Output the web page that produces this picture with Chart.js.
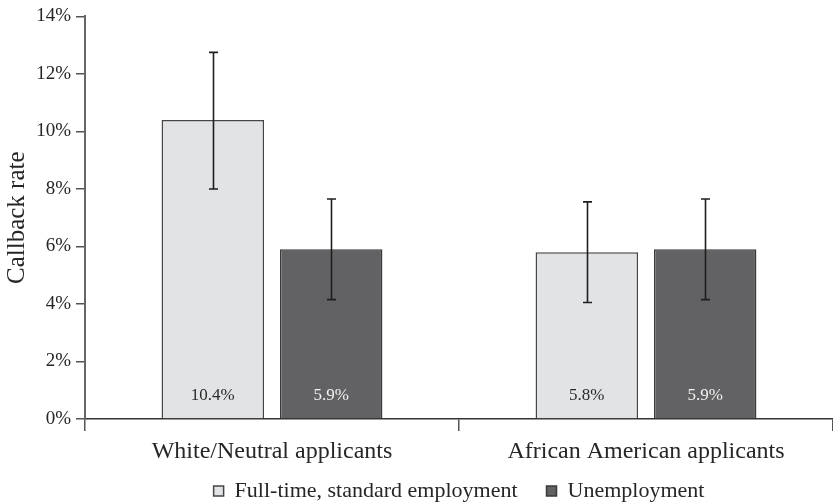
<!DOCTYPE html>
<html>
<head>
<meta charset="utf-8">
<script src="https://cdn.jsdelivr.net/npm/chart.js@4/dist/chart.umd.min.js"></script>
<style>
  html, body { margin: 0; padding: 0; background: #ffffff; }
  #wrap { width: 833px; height: 503px; }
</style>
</head>
<body>
<div id="wrap"><canvas id="chart" width="833" height="503"></canvas></div>
<script>
// Callback rates by applicant group and employment history
const categories = ['White/Neutral applicants', 'African American applicants'];
const seriesNames = ['Full-time, standard employment', 'Unemployment'];
const fullTimeRates = [10.4, 5.8];
const unemployedRates = [5.9, 5.9];
// 95% interval bounds for each bar
const fullTimeLow = [8.0, 4.05];
const fullTimeHigh = [12.75, 7.55];
const unemployedLow = [4.15, 4.15];
const unemployedHigh = [7.65, 7.65];
const yTicks = [0, 2, 4, 6, 8, 10, 12, 14];

const SERIF = "'Liberation Serif', 'Times New Roman', serif";
const INK = '#262626';

const errorBars = {
  id: 'errorBars',
  afterDatasetsDraw(chart) {
    const ctx = chart.ctx;
    const y = chart.scales.y;
    ctx.save();
    ctx.strokeStyle = '#1e1e1e';
    ctx.lineWidth = 1.6;
    chart.data.datasets.forEach((ds, di) => {
      const meta = chart.getDatasetMeta(di);
      meta.data.forEach((bar, i) => {
        const x = Math.round(bar.x) + 0.5;
        const top = y.getPixelForValue(ds.errHigh[i]);
        const bot = y.getPixelForValue(ds.errLow[i]);
        ctx.beginPath();
        ctx.moveTo(x, top); ctx.lineTo(x, bot);
        ctx.moveTo(x - 4.5, top); ctx.lineTo(x + 4.5, top);
        ctx.moveTo(x - 4.5, bot); ctx.lineTo(x + 4.5, bot);
        ctx.stroke();
      });
    });
    ctx.restore();
  }
};

const valueLabels = {
  id: 'valueLabels',
  afterDatasetsDraw(chart) {
    const ctx = chart.ctx;
    const base = chart.scales.y.getPixelForValue(0);
    ctx.save();
    ctx.font = '17px ' + SERIF;
    ctx.textAlign = 'center';
    ctx.textBaseline = 'middle';
    chart.data.datasets.forEach((ds, di) => {
      const meta = chart.getDatasetMeta(di);
      ctx.fillStyle = ds.labelColor;
      meta.data.forEach((bar, i) => {
        ctx.fillText(ds.data[i].toFixed(1) + '%', bar.x, base - 23);
      });
    });
    ctx.restore();
  }
};

// legend entries: keep the defaults, with a wider gap after every entry but the last
function legendLabels(chart) {
  const items = Chart.defaults.plugins.legend.labels.generateLabels(chart);
  items.forEach((item, i) => {
    if (i < items.length - 1) item.text = item.text + '\u2003';
  });
  return items;
}

new Chart(document.getElementById('chart'), {
  type: 'bar',
  data: {
    labels: categories,
    datasets: [
      {
        label: seriesNames[0],
        data: fullTimeRates,
        errLow: fullTimeLow,
        errHigh: fullTimeHigh,
        labelColor: '#2a2a2a',
        backgroundColor: '#e2e3e5',
        borderColor: '#454545',
        borderWidth: 1.5,
        categoryPercentage: 0.633,
        barPercentage: 0.866
      },
      {
        label: seriesNames[1],
        data: unemployedRates,
        errLow: unemployedLow,
        errHigh: unemployedHigh,
        labelColor: '#f2f2f2',
        backgroundColor: '#626264',
        borderColor: '#3a3a3a',
        borderWidth: 1.5,
        categoryPercentage: 0.633,
        barPercentage: 0.866
      }
    ]
  },
  options: {
    responsive: false,
    animation: false,
    devicePixelRatio: 1,
    layout: { padding: { top: 15, right: 0, bottom: -9, left: 0 } },
    plugins: {
      tooltip: { enabled: false },
      legend: {
        position: 'bottom',
        fullSize: false,
        labels: {
          boxWidth: 10,
          boxHeight: 10,
          padding: 7,
          color: INK,
          font: { family: SERIF, size: 22 },
          generateLabels: legendLabels
        }
      }
    },
    scales: {
      x: {
        offset: true,
        grid: {
          display: true,
          offset: true,
          drawOnChartArea: false,
          drawTicks: true,
          tickLength: 12,
          color: '#555555',
          lineWidth: 1.5
        },
        border: { display: true, color: '#333333', width: 1.5 },
        ticks: {
          color: INK,
          padding: 9,
          font: { family: SERIF, size: 24, lineHeight: 1 }
        }
      },
      y: {
        min: 0,
        max: 14,
        afterBuildTicks(scale) { scale.ticks = yTicks.map(v => ({ value: v })); },
        afterFit(scale) { scale.width = 85; },
        grid: {
          display: true,
          drawOnChartArea: false,
          drawTicks: true,
          tickLength: 9,
          color: '#555555',
          lineWidth: 1.5
        },
        border: { display: true, color: '#666666', width: 2 },
        ticks: {
          color: INK,
          padding: 5,
          font: { family: SERIF, size: 19 },
          callback: v => v + '%'
        },
        title: {
          display: true,
          text: 'Callback rate',
          color: INK,
          padding: { top: 2, bottom: 0 },
          font: { family: SERIF, size: 25 }
        }
      }
    }
  },
  plugins: [errorBars, valueLabels]
});
</script>
</body>
</html>
